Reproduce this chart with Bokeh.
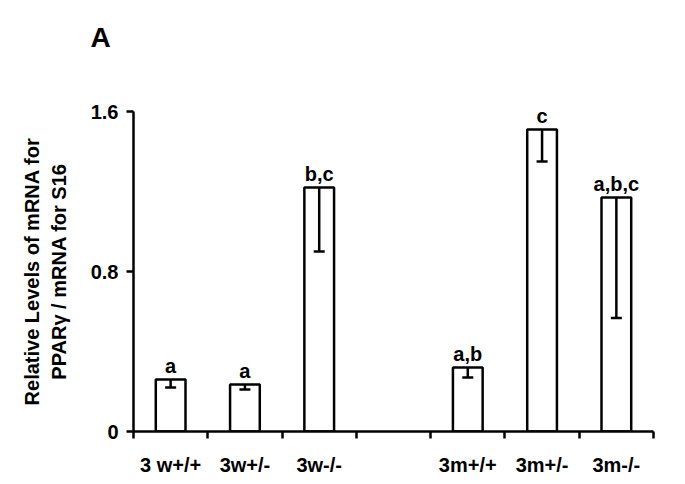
from bokeh.plotting import figure
from bokeh.models import Range1d, FixedTicker, LinearAxis, ColumnDataSource
from bokeh.core.properties import value
from bokeh.embed import file_html
from bokeh.resources import INLINE

# ---- data ----
categories = ["3 w+/+", "3w+/-", "3w-/-", "3m+/+", "3m+/-", "3m-/-"]
slots = [0, 1, 2, 4, 5, 6]          # slot index of each group on the axis (slot 3 is empty)
means = [0.26, 0.235, 1.22, 0.32, 1.51, 1.17]
err_low = [0.22, 0.21, 0.90, 0.27, 1.35, 0.567]
letters = ["a", "a", "b,c", "a,b", "c", "a,b,c"]
n_slots = 7
y_ticks = [0, 0.8, 1.6]
y_tick_labels = {0: "0", 0.8: "0.8", 1.6: "1.6"}

FONT = "Liberation Sans"
FS = "20px"

xc = [s + 0.5 for s in slots]
src = ColumnDataSource(dict(x=xc, top=means, lower=err_low, lab=letters))

p = figure(width=669, height=478, x_range=Range1d(0, n_slots), y_range=Range1d(0, 1.6),
           output_backend="svg", toolbar_location=None,
           min_border_left=133, min_border_right=16, min_border_top=111, min_border_bottom=47)
p.grid.visible = False
p.outline_line_color = None
p.background_fill_color = "white"
p.border_fill_color = "white"

p.vbar(x="x", top="top", width=0.4, bottom=0, source=src,
       fill_color="white", line_color="black", line_width=2.5)

# error bars (downward only) with a cap at the lower end
p.segment(x0="x", y0="top", x1="x", y1="lower", source=src, line_color="black", line_width=2.5)
p.scatter(x="x", y="lower", source=src, marker="dash", size=11,
          line_color="black", line_width=2.5)

p.text(x="x", y="top", text="lab", source=src, text_align="center",
       text_baseline="alphabetic", y_offset=-14,
       text_font=value(FONT), text_font_size=FS, text_font_style="bold", text_color="black")

# x axis: boundary ticks, no labels
xa = p.xaxis[0]
xa.ticker = FixedTicker(ticks=list(range(n_slots + 1)))
xa.major_label_text_font_size = "0px"
xa.major_label_standoff = 0
xa.axis_line_width = 2.5
xa.major_tick_line_width = 2.5
xa.major_tick_out = 7
xa.major_tick_in = 0
xa.minor_tick_line_color = None
xa.axis_line_color = "black"
xa.major_tick_line_color = "black"

# x axis with category labels
xl = LinearAxis(ticker=FixedTicker(ticks=xc),
                major_label_overrides={x: c for x, c in zip(xc, categories)},
                axis_line_color=None, major_tick_line_color=None, minor_tick_line_color=None,
                major_label_standoff=9,
                major_label_text_font=FONT, major_label_text_font_size=FS,
                major_label_text_font_style="bold", major_label_text_color="black")
p.add_layout(xl, "below")

ya = p.yaxis[0]
ya.ticker = FixedTicker(ticks=y_ticks)
ya.major_label_overrides = y_tick_labels
ya.axis_line_width = 2.5
ya.major_tick_line_width = 2.5
ya.major_tick_out = 7
ya.major_tick_in = 0
ya.minor_tick_line_color = None
ya.axis_line_color = "black"
ya.major_tick_line_color = "black"
ya.major_label_standoff = 8
ya.major_label_text_font = FONT
ya.major_label_text_font_size = FS
ya.major_label_text_font_style = "bold"
ya.major_label_text_color = "black"
ya.axis_label = "Relative Levels of mRNA for\nPPARγ / mRNA for S16"
ya.axis_label_text_font = FONT
ya.axis_label_text_font_size = FS
ya.axis_label_text_font_style = "bold"
ya.axis_label_text_color = "black"
ya.axis_label_standoff = 18

# panel letter "A" as the title; blank lines below it lift it up
p.title.text = "A\n \n "
p.title.text_font = FONT
p.title.text_font_size = "28px"
p.title.text_font_style = "bold"
p.title.text_color = "black"
p.title.text_line_height = 0.95
p.title.align = "left"
p.title.vertical_align = "bottom"
p.title.offset = -43
p.title.standoff = 0

open("out.html", "w").write(file_html(p, INLINE))
